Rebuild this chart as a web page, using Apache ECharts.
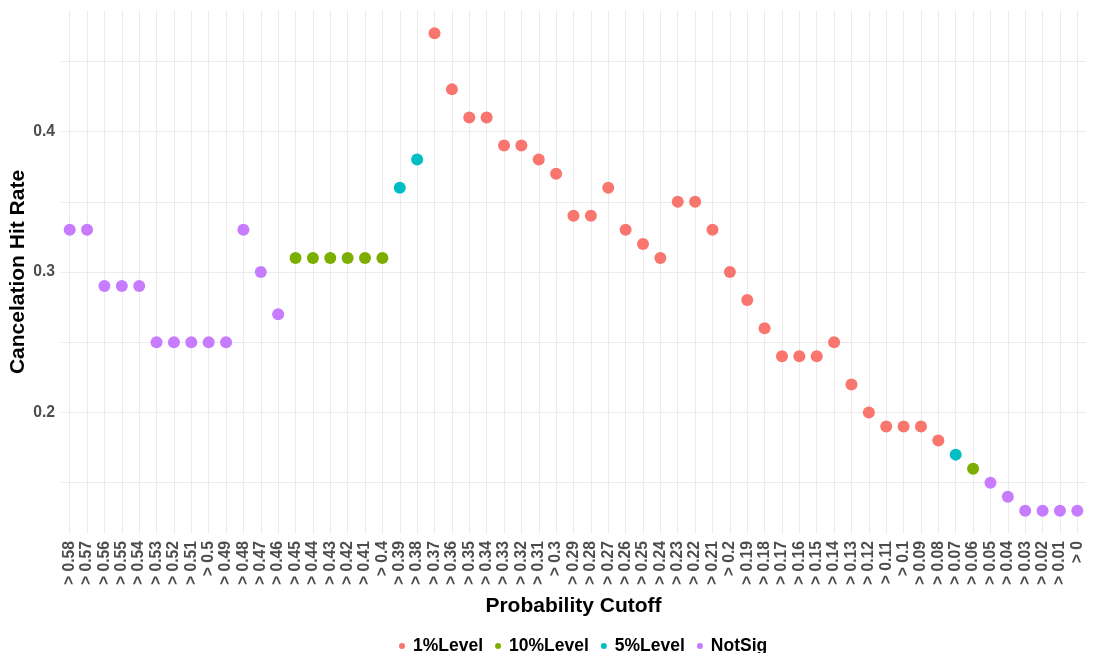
<!DOCTYPE html>
<html>
<head>
<meta charset="utf-8">
<script src="https://cdn.jsdelivr.net/npm/echarts@6/dist/echarts.min.js"></script>
<style>
html,body{margin:0;padding:0;background:#fff;}
#chart{width:1093px;height:653px;}
</style>
</head>
<body>
<div id="chart"></div>
<script>
// Data
const categories = ['> 0.58','> 0.57','> 0.56','> 0.55','> 0.54','> 0.53','> 0.52','> 0.51','> 0.5','> 0.49',
  '> 0.48','> 0.47','> 0.46','> 0.45','> 0.44','> 0.43','> 0.42','> 0.41','> 0.4','> 0.39',
  '> 0.38','> 0.37','> 0.36','> 0.35','> 0.34','> 0.33','> 0.32','> 0.31','> 0.3','> 0.29',
  '> 0.28','> 0.27','> 0.26','> 0.25','> 0.24','> 0.23','> 0.22','> 0.21','> 0.2','> 0.19',
  '> 0.18','> 0.17','> 0.16','> 0.15','> 0.14','> 0.13','> 0.12','> 0.11','> 0.1','> 0.09',
  '> 0.08','> 0.07','> 0.06','> 0.05','> 0.04','> 0.03','> 0.02','> 0.01','> 0'];
const hitRate = [0.33,0.33,0.29,0.29,0.29,0.25,0.25,0.25,0.25,0.25,
  0.33,0.30,0.27,0.31,0.31,0.31,0.31,0.31,0.31,0.36,
  0.38,0.47,0.43,0.41,0.41,0.39,0.39,0.38,0.37,0.34,
  0.34,0.36,0.33,0.32,0.31,0.35,0.35,0.33,0.30,0.28,
  0.26,0.24,0.24,0.24,0.25,0.22,0.20,0.19,0.19,0.19,
  0.18,0.17,0.16,0.15,0.14,0.13,0.13,0.13,0.13];
const level = ['NotSig','NotSig','NotSig','NotSig','NotSig','NotSig','NotSig','NotSig','NotSig','NotSig',
  'NotSig','NotSig','NotSig','10%Level','10%Level','10%Level','10%Level','10%Level','10%Level','5%Level',
  '5%Level','1%Level','1%Level','1%Level','1%Level','1%Level','1%Level','1%Level','1%Level','1%Level',
  '1%Level','1%Level','1%Level','1%Level','1%Level','1%Level','1%Level','1%Level','1%Level','1%Level',
  '1%Level','1%Level','1%Level','1%Level','1%Level','1%Level','1%Level','1%Level','1%Level','1%Level',
  '1%Level','5%Level','10%Level','NotSig','NotSig','NotSig','NotSig','NotSig','NotSig'];
const levelNames = ['1%Level','10%Level','5%Level','NotSig'];
const levelColors = ['#F8766D','#7CAE00','#00BFC4','#C77CFF'];
const yGridValues = [0.15,0.2,0.25,0.3,0.35,0.4,0.45];
const yMin = 0.1135, yMax = 0.4865;

const FONT = '"Liberation Sans", Arial, sans-serif';
const chart = echarts.init(document.getElementById('chart'), null, {renderer:'canvas'});

const series = levelNames.map((name, si) => {
  const data = [];
  categories.forEach((c, i) => { if (level[i] === name) data.push([c, hitRate[i]]); });
  const s = {
    name: name,
    type: 'scatter',
    data: data,
    symbol: 'circle',
    symbolSize: 12,
    itemStyle: {color: levelColors[si], opacity: 1},
    z: 3
  };
  if (si === 0) {
    s.markLine = {
      silent: true,
      symbol: ['none','none'],
      label: {show: false},
      animation: false,
      lineStyle: {color: '#EBEBEB', width: 1, type: 'solid'},
      emphasis: {disabled: true},
      z: 1,
      data: yGridValues.map(v => ({yAxis: v}))
    };
  }
  return s;
});

chart.setOption({
  animation: false,
  backgroundColor: '#ffffff',
  textStyle: {fontFamily: FONT},
  grid: {left: 61, right: 7, top: 10, bottom: 119, containLabel: false, outerBoundsMode: 'none'},
  legend: {
    data: levelNames.map((n, i) => ({name: n, icon: 'circle', itemStyle: {color: levelColors[i]}})),
    top: 632,
    left: 394,
    itemWidth: 12,
    itemHeight: 6,
    itemGap: 12,
    symbolKeepAspect: true,
    textStyle: {fontFamily: FONT, fontSize: 17.5, fontWeight: 'bold', color: '#000'}
  },
  xAxis: {
    type: 'category',
    data: categories,
    boundaryGap: true,
    name: 'Probability Cutoff',
    nameLocation: 'middle',
    nameGap: 62,
    nameMoveOverlap: false,
    nameTextStyle: {fontFamily: FONT, fontSize: 21, fontWeight: 'bold', color: '#000'},
    axisLine: {show: false},
    axisTick: {show: false},
    axisLabel: {interval: 0, rotate: 90, margin: 7, fontFamily: FONT, fontSize: 15.7, fontWeight: 'bold', color: '#4D4D4D'},
    splitLine: {show: true, interval: 0, alignWithLabel: true, lineStyle: {color: '#EBEBEB', width: 1}}
  },
  yAxis: {
    type: 'value',
    min: yMin,
    max: yMax,
    name: 'Cancelation Hit Rate',
    nameLocation: 'middle',
    nameGap: 32,
    nameMoveOverlap: false,
    nameRotate: 90,
    nameTextStyle: {fontFamily: FONT, fontSize: 21, fontWeight: 'bold', color: '#000'},
    axisLine: {show: false},
    axisTick: {show: false},
    splitLine: {show: false},
    axisLabel: {
      margin: 6,
      fontFamily: FONT, fontSize: 15.7, fontWeight: 'bold', color: '#4D4D4D',
      formatter: function (v) {
        const t = v * 10;
        if (Math.abs(t - Math.round(t)) < 1e-6 && v > yMin + 1e-6 && v < yMax - 1e-6) return (Math.round(t) / 10).toString();
        return '';
      }
    }
  },
  series: series
});
</script>
</body>
</html>
